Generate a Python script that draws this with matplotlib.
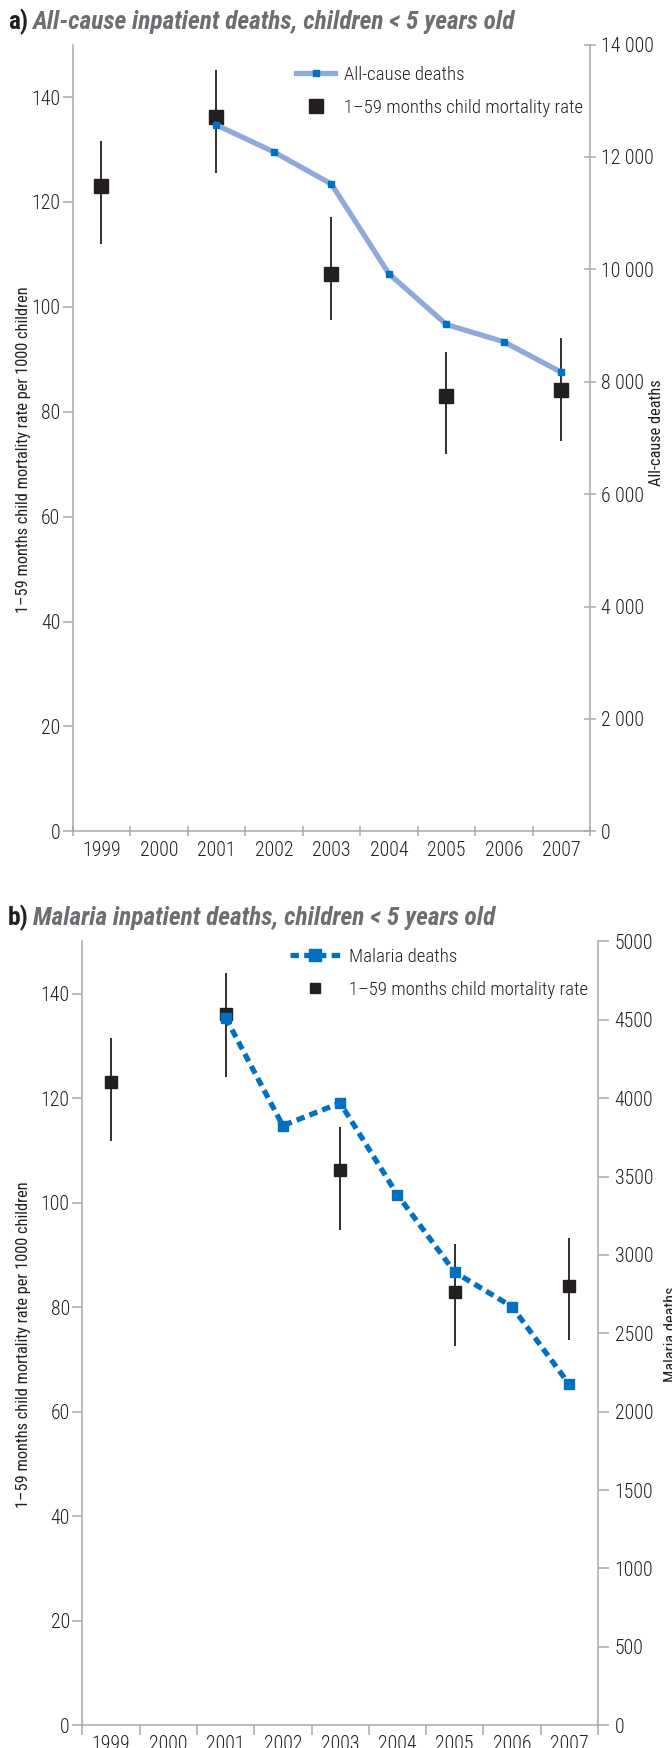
import numpy as np
import matplotlib
matplotlib.use("Agg")
import matplotlib.pyplot as plt
from matplotlib import font_manager
from matplotlib.lines import Line2D
from matplotlib.ticker import FixedLocator, FuncFormatter, NullFormatter

# --- data -------------------------------------------------------------
years = ["1999", "2000", "2001", "2002", "2003", "2004", "2005", "2006", "2007"]

rate_years = ["1999", "2001", "2003", "2005", "2007"]
rate = [123.1, 136.2, 106.2, 83.0, 84.1]
rate_hi_a = [131.6, 145.1, 117.2, 91.4, 94.1]
rate_lo_a = [111.9, 125.5, 97.5, 71.9, 74.5]
rate_hi_b = [131.5, 143.9, 114.4, 92.1, 93.3]
rate_lo_b = [111.9, 124.1, 94.7, 72.6, 73.7]

death_years = ["2001", "2002", "2003", "2004", "2005", "2006", "2007"]
allcause_deaths = [12570, 12090, 11520, 9925, 9020, 8712, 8170]
malaria_deaths = [4515, 3825, 3970, 3384, 2890, 2670, 2174]

rate_ticks = [0, 20, 40, 60, 80, 100, 120, 140]
allcause_ticks = [0, 2000, 4000, 6000, 8000, 10000, 12000, 14000]
malaria_ticks = [0, 500, 1000, 1500, 2000, 2500, 3000, 3500, 4000, 4500, 5000]

# --- style ------------------------------------------------------------
names = {f.name for f in font_manager.fontManager.ttflist}
FONT = "DejaVu Sans"
for cand in ["Roboto Condensed", "Fira Sans Condensed", "IBM Plex Sans Condensed",
             "Barlow Semi Condensed", "Archivo Narrow", "PT Sans Narrow",
             "Liberation Sans Narrow"]:
    if cand in names:
        FONT = cand
        break
plt.rcParams["font.family"] = [FONT, "DejaVu Sans"]
plt.rcParams["font.weight"] = "light"

INK = "#231f20"
GREY_TXT = "#6d6e71"
AXIS = "#a7a9ac"
LIGHT_BLUE = "#8eaadb"
BLUE = "#0070c0"

TICK_FS = 14.3
LABEL_FS = 11.8
LEG_FS = 13.5
TITLE_FS = 18.3

fig = plt.figure(figsize=(6.72, 17.48), dpi=100)
W, H = 672, 1748


def px_box(left, right, top, bottom):
    return [left / W, 1 - bottom / H, (right - left) / W, (bottom - top) / H]


def xpos(labels):
    return [years.index(y) for y in labels]


def style_axes(ax, ax2, right_ticks, right_fmt, xtick_dir, rtick_dir):
    n = len(years)
    ax.set_xlim(-0.5, n - 0.5)
    ax.set_ylim(0, 150)
    for a in (ax, ax2):
        for s in a.spines.values():
            s.set_color(AXIS)
            s.set_linewidth(1.1)
        a.spines["top"].set_visible(False)
    ax.spines["right"].set_visible(False)
    ax2.spines["left"].set_visible(False)
    ax2.spines["bottom"].set_visible(False)

    # category boundaries carry the tick marks, centres carry the year labels
    ax.xaxis.set_major_locator(FixedLocator(np.arange(-0.5, n, 1)))
    ax.xaxis.set_major_formatter(NullFormatter())
    ax.xaxis.set_minor_locator(FixedLocator(np.arange(n)))
    ax.set_xticklabels(years, minor=True)
    ax.tick_params(axis="x", which="major", direction=xtick_dir, length=7,
                   color=AXIS, width=1.1)
    ax.tick_params(axis="x", which="minor", length=0, pad=7,
                   labelsize=TICK_FS, labelcolor=INK)

    ax.set_yticks(rate_ticks)
    ax.tick_params(axis="y", direction="out", length=7, color=AXIS, width=1.1,
                   pad=2, labelsize=TICK_FS, labelcolor=INK)

    ax2.set_yticks(right_ticks)
    ax2.yaxis.set_major_formatter(FuncFormatter(right_fmt))
    ax2.tick_params(axis="y", direction=rtick_dir, length=8, color=AXIS,
                    width=1.1, pad=4, labelsize=TICK_FS, labelcolor=INK)


def title(y_base, letter, text):
    t = fig.text(8 / W, 1 - y_base / H, letter, fontsize=TITLE_FS,
                 fontweight="bold", color=INK, va="baseline")
    fig.canvas.draw()
    x1 = t.get_window_extent().x1 / fig.bbox.width
    fig.text(x1 + 4 / W, 1 - y_base / H, text, fontsize=TITLE_FS,
             fontweight="bold", style="italic", color=GREY_TXT, va="baseline")


thousands = lambda v, p: f"{int(v):,}".replace(",", " ")
plain = lambda v, p: f"{int(v)}"

# --- panel a: all-cause deaths -----------------------------------------
ax = fig.add_axes(px_box(72.7, 590, 44.6, 831.4))
ax2 = ax.twinx()
ax2.set_ylim(0, 14000)
style_axes(ax, ax2, allcause_ticks, thousands, "inout", "inout")

rx = xpos(rate_years)
yerr_a = [np.subtract(rate, rate_lo_a), np.subtract(rate_hi_a, rate)]
ax.errorbar(rx, rate, yerr=yerr_a, fmt="s", color=INK, ms=9.5,
            elinewidth=1.3, capsize=0, zorder=3)
ax2.plot(xpos(death_years), allcause_deaths, color=LIGHT_BLUE, lw=3.8,
         solid_joinstyle="miter", marker="s", ms=4.6, mfc=BLUE, mec=BLUE,
         zorder=3)

ax.set_ylabel("1–59 months child mortality rate per 1000 children",
              fontsize=LABEL_FS, color=INK)
ax.yaxis.set_label_coords(31 / W, 1 - 450 / H, transform=fig.transFigure)
ax2.set_ylabel("All-cause deaths", fontsize=LABEL_FS, color=INK)
ax2.yaxis.set_label_coords(649 / W, 1 - 433 / H, transform=fig.transFigure)

handles_a = [
    Line2D([], [], color=LIGHT_BLUE, lw=3.8, marker="s", ms=4.6,
           mfc=BLUE, mec=BLUE),
    Line2D([], [], ls="none", marker="s", ms=9.5, color=INK),
]
ax.legend(handles_a, ["All-cause deaths", "1–59 months child mortality rate"],
          loc="upper left", bbox_to_anchor=(296 / W, 1 - 66 / H),
          bbox_transform=fig.transFigure, frameon=False, fontsize=LEG_FS,
          handlelength=2.1, handletextpad=0.45, labelspacing=0.8,
          labelcolor=INK, borderaxespad=0, borderpad=0)

title(29, "a)", "All-cause inpatient deaths, children < 5 years old")

# --- panel b: malaria deaths -------------------------------------------
bx = fig.add_axes(px_box(82.3, 598, 941.5, 1725.2))
bx2 = bx.twinx()
bx2.set_ylim(0, 5000)
style_axes(bx, bx2, malaria_ticks, plain, "out", "out")

yerr_b = [np.subtract(rate, rate_lo_b), np.subtract(rate_hi_b, rate)]
bx.errorbar(rx, rate, yerr=yerr_b, fmt="s", color=INK, ms=9.2,
            elinewidth=1.3, capsize=0, zorder=3)
bx2.plot(xpos(death_years), malaria_deaths, color=BLUE, lw=3.8,
         ls=(0, (1.6, 1.0)), marker="s", ms=7.0, zorder=3)

bx.set_ylabel("1–59 months child mortality rate per 1000 children",
              fontsize=LABEL_FS, color=INK)
bx.yaxis.set_label_coords(31 / W, 1 - 1345 / H, transform=fig.transFigure)
bx2.set_ylabel("Malaria deaths", fontsize=LABEL_FS, color=INK)
bx2.yaxis.set_label_coords(664 / W, 1 - 1334 / H, transform=fig.transFigure)

handles_b = [
    Line2D([], [], color=BLUE, lw=3.8, ls=(0, (1.6, 1.0)), marker="s", ms=9),
    Line2D([], [], ls="none", marker="s", ms=6.5, color=INK),
]
bx.legend(handles_b, ["Malaria deaths", "1–59 months child mortality rate"],
          loc="upper left", bbox_to_anchor=(290 / W, 1 - 948 / H),
          bbox_transform=fig.transFigure, frameon=False, fontsize=LEG_FS,
          handlelength=2.7, handletextpad=0.45, labelspacing=0.8,
          labelcolor=INK, borderaxespad=0, borderpad=0)

title(925, "b)", "Malaria inpatient deaths, children < 5 years old")

fig.savefig("out.png", dpi=100, facecolor="white")
